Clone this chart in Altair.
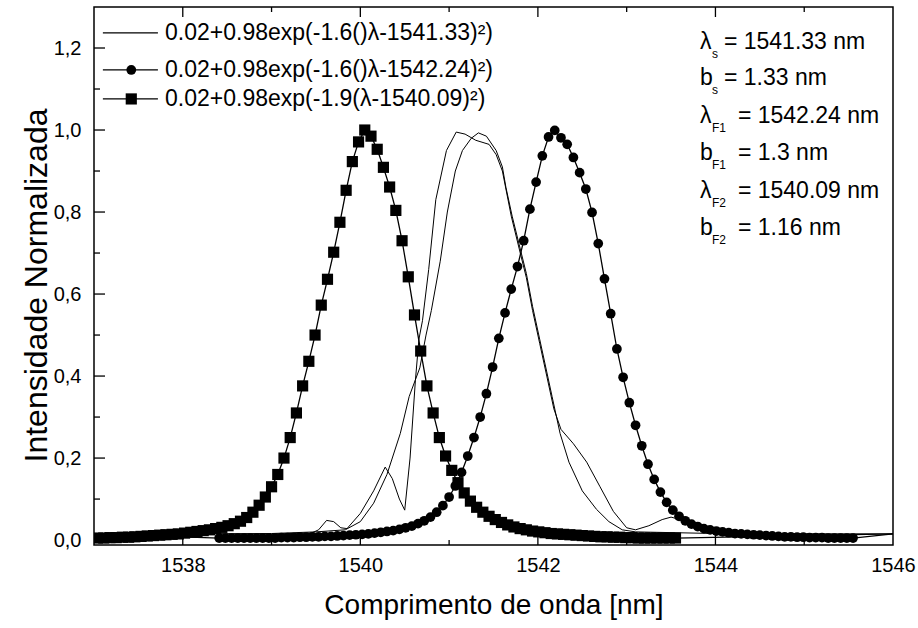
import altair as alt
import numpy as np
import pandas as pd

FONT = "Liberation Sans"

# ---------------- data ----------------
STEP = 0.07           # spacing of the measured points (nm)
SQ_X0 = 1537.04       # first square point (filter F2)
CI_X0 = 1538.41       # first circle point (filter F1)

sq_y = [0.005, 0.005, 0.006, 0.006, 0.007, 0.007, 0.008, 0.009, 0.010, 0.011,
        0.012, 0.013, 0.014, 0.015, 0.017, 0.019, 0.021, 0.023, 0.025, 0.028,
        0.031, 0.035, 0.040, 0.046, 0.055, 0.068, 0.085, 0.105, 0.130, 0.160,
        0.200, 0.250, 0.310, 0.376, 0.436, 0.500, 0.573, 0.636, 0.702, 0.775,
        0.853, 0.923, 0.971, 1.000, 0.985, 0.953, 0.909, 0.861, 0.804, 0.730,
        0.642, 0.549, 0.461, 0.376, 0.310, 0.250, 0.205, 0.170, 0.140, 0.115,
        0.095, 0.080, 0.068, 0.058, 0.050, 0.043, 0.037, 0.032, 0.028, 0.025,
        0.022, 0.020, 0.018, 0.016, 0.015, 0.014, 0.013, 0.012, 0.011, 0.010,
        0.009, 0.008, 0.008, 0.007, 0.007, 0.006, 0.006, 0.005, 0.005, 0.005,
        0.005, 0.005, 0.005, 0.005]

ci_y = [0.005, 0.005, 0.005, 0.005, 0.005, 0.005, 0.005, 0.005, 0.005, 0.005,
        0.006, 0.006, 0.006, 0.007, 0.007, 0.008, 0.008, 0.009, 0.009, 0.010,
        0.011, 0.012, 0.013, 0.014, 0.015, 0.017, 0.019, 0.021, 0.023, 0.026,
        0.030, 0.034, 0.040, 0.047, 0.056, 0.068, 0.084, 0.105, 0.132, 0.165,
        0.205, 0.250, 0.300, 0.357, 0.422, 0.492, 0.554, 0.612, 0.667, 0.730,
        0.807, 0.873, 0.937, 0.983, 0.999, 0.981, 0.965, 0.933, 0.896, 0.856,
        0.799, 0.723, 0.637, 0.552, 0.466, 0.397, 0.335, 0.280, 0.230, 0.185,
        0.148, 0.117, 0.092, 0.073, 0.058, 0.047, 0.039, 0.033, 0.028, 0.025,
        0.022, 0.020, 0.018, 0.016, 0.015, 0.014, 0.013, 0.012, 0.011, 0.010,
        0.009, 0.008, 0.008, 0.007, 0.007, 0.006, 0.006, 0.006, 0.005, 0.005,
        0.005, 0.005, 0.005]

# source: smooth curve (fit) and measured spectrum (thin lines)
src_fit_x = [1537.0, 1539.0, 1539.5, 1539.83, 1540.0, 1540.15, 1540.3, 1540.45,
             1540.55, 1540.67, 1540.74, 1540.8, 1540.9, 1540.98, 1541.07, 1541.15,
             1541.25, 1541.33, 1541.42, 1541.53, 1541.6, 1541.64, 1541.71, 1541.79,
             1541.87, 1541.94, 1542.02, 1542.1, 1542.16, 1542.25, 1542.35, 1542.5,
             1542.66, 1542.8, 1542.95, 1543.1, 1544.0, 1546.0]
src_fit_y = [0.015, 0.016, 0.020, 0.025, 0.045, 0.090, 0.160, 0.260,
             0.350, 0.420, 0.500, 0.560, 0.680, 0.800, 0.900, 0.950,
             0.980, 0.993, 0.985, 0.950, 0.910, 0.860, 0.790, 0.720,
             0.650, 0.570, 0.490, 0.410, 0.350, 0.260, 0.190, 0.120,
             0.075, 0.045, 0.025, 0.020, 0.016, 0.015]

src_meas_x = [1539.0, 1539.45, 1539.53, 1539.62, 1539.7, 1539.78, 1539.85, 1540.0,
              1540.15, 1540.28, 1540.36, 1540.44, 1540.5, 1540.56, 1540.62, 1540.66,
              1540.7, 1540.77, 1540.85, 1540.97, 1541.08, 1541.18, 1541.3, 1541.45,
              1541.53, 1541.6, 1541.7, 1541.79, 1541.87, 1541.94, 1542.02, 1542.1,
              1542.18, 1542.26, 1542.4, 1542.55, 1542.7, 1542.85, 1543.0, 1543.1,
              1543.25, 1543.4, 1543.5, 1543.6, 1543.75, 1543.9, 1544.2]
src_meas_y = [0.015, 0.017, 0.025, 0.048, 0.045, 0.030, 0.028, 0.065,
              0.120, 0.178, 0.150, 0.100, 0.073, 0.200, 0.389, 0.490,
              0.535, 0.660, 0.830, 0.950, 0.995, 0.990, 0.975, 0.965,
              0.940, 0.900, 0.790, 0.710, 0.640, 0.560, 0.480, 0.400,
              0.320, 0.270, 0.235, 0.190, 0.130, 0.070, 0.030, 0.025,
              0.035, 0.050, 0.056, 0.050, 0.030, 0.018, 0.015]

legend_text = ["0.02+0.98exp(-1.6()\u03bb-1541.33)\u00b2)",
               "0.02+0.98exp(-1.6()\u03bb-1542.24)\u00b2)",
               "0.02+0.98exp(-1.9(\u03bb-1540.09)\u00b2)"]
legend_row_y = [1.2367, 1.1465, 1.0758]
LEG_X1, LEG_X2, LEG_XM, LEG_XT = 1537.10, 1537.72, 1537.42, 1537.80

ann_sym = ["\u03bb", "b", "\u03bb", "b", "\u03bb", "b"]
ann_sub = ["s", "s", "F1", "F1", "F2", "F2"]
ann_rest = ["= 1541.33 nm", "= 1.33 nm", "= 1542.24 nm", "= 1.3 nm",
            "= 1540.09 nm", "= 1.16 nm"]
ann_y = [1.2147, 1.1269, 1.0342, 0.9440, 0.8513, 0.7611]
ANN_X = 1543.825

x_major = [1538, 1540, 1542, 1544]
x_minor = [1539, 1541, 1543, 1545]
x_labels = [1538, 1540, 1542, 1544, 1546]
y_major = [0.0, 0.2, 0.4, 0.6, 0.8, 1.0, 1.2]
y_minor = [0.1, 0.3, 0.5, 0.7, 0.9, 1.1]

X_DOMAIN = [1537, 1546]
Y_DOMAIN = [-0.012, 1.3]

# ---------------- tables ----------------
sq = pd.DataFrame({"x": np.round(SQ_X0 + STEP * np.arange(len(sq_y)), 3), "y": sq_y})
ci = pd.DataFrame({"x": np.round(CI_X0 + STEP * np.arange(len(ci_y)), 3), "y": ci_y})
sq_line = pd.concat([pd.DataFrame({"x": [X_DOMAIN[0]], "y": [0.015]}), sq,
                     pd.DataFrame({"x": [X_DOMAIN[1]], "y": [0.015]})])
ci_line = pd.concat([pd.DataFrame({"x": [X_DOMAIN[0]], "y": [0.015]}), ci,
                     pd.DataFrame({"x": [X_DOMAIN[1]], "y": [0.015]})])
fit_df = pd.DataFrame({"x": src_fit_x, "y": src_fit_y})
meas_df = pd.DataFrame({"x": src_meas_x, "y": src_meas_y})

leg_lines = pd.DataFrame({"x": [LEG_X1] * 3, "x2": [LEG_X2] * 3, "y": legend_row_y})
leg_text = pd.DataFrame({"x": [LEG_XT] * 3, "y": legend_row_y, "t": legend_text})
leg_ci = pd.DataFrame({"x": [LEG_XM], "y": [legend_row_y[1]]})
leg_sq = pd.DataFrame({"x": [LEG_XM], "y": [legend_row_y[2]]})

ann = pd.DataFrame({"x": [ANN_X] * 6, "y": ann_y, "sym": ann_sym, "sub": ann_sub,
                    "rest": ann_rest, "grp": ["s", "s", "F", "F", "F", "F"]})

# ---------------- scales / axes ----------------
xs = alt.Scale(domain=X_DOMAIN, nice=False, zero=False)
ys = alt.Scale(domain=Y_DOMAIN, nice=False, zero=False)

x_axis = alt.Axis(values=x_labels, format="d", ticks=False, domain=False, grid=False,
                  labelFontSize=20, labelPadding=10, labelFlush=False, labelColor="black",
                  labelFont=FONT, title="Comprimento de onda [nm]", titleFont=FONT,
                  titleFontSize=28, titleFontWeight="normal", titleColor="black",
                  titleY=68, titleBaseline="alphabetic")
y_axis = alt.Axis(values=y_major, ticks=False, domain=False, grid=False,
                  labelFontSize=20, labelPadding=13, labelColor="black", labelFont=FONT,
                  labelExpr="replace(format(datum.value, '.1f'), '.', ',')",
                  title="Intensidade Normalizada", titleFont=FONT, titleFontSize=32,
                  titleFontWeight="normal", titleColor="black", titleX=-48, titleY=278,
                  titleAngle=-90, titleBaseline="alphabetic", titleAlign="center")


def X(f="x"):
    return alt.X(f"{f}:Q", scale=xs, axis=x_axis)


def Y(f="y"):
    return alt.Y(f"{f}:Q", scale=ys, axis=y_axis)


SQ_SIZE = 125
CI_SIZE = 95

# ---------------- layers ----------------
fit_line = alt.Chart(fit_df).mark_line(color="black", strokeWidth=1, clip=True).encode(x=X(), y=Y())
meas_line = alt.Chart(meas_df).mark_line(color="black", strokeWidth=1, clip=True).encode(x=X(), y=Y())
sq_l = alt.Chart(sq_line).mark_line(color="black", strokeWidth=1.3, clip=True).encode(x=X(), y=Y())
ci_l = alt.Chart(ci_line).mark_line(color="black", strokeWidth=1.3, clip=True).encode(x=X(), y=Y())
sq_p = alt.Chart(sq).mark_point(shape="square", filled=True, size=SQ_SIZE, color="black",
                                opacity=1, clip=True).encode(x=X(), y=Y())
ci_p = alt.Chart(ci).mark_point(shape="circle", filled=True, size=CI_SIZE, color="black",
                                opacity=1, clip=True).encode(x=X(), y=Y())

# legend
leg_l = alt.Chart(leg_lines).mark_rule(color="black", strokeWidth=1.3).encode(
    x=X(), x2="x2:Q", y=Y())
leg_c = alt.Chart(leg_ci).mark_point(shape="circle", filled=True, size=CI_SIZE, color="black",
                                     opacity=1).encode(x=X(), y=Y())
leg_s = alt.Chart(leg_sq).mark_point(shape="square", filled=True, size=SQ_SIZE, color="black",
                                     opacity=1).encode(x=X(), y=Y())
leg_t = alt.Chart(leg_text).mark_text(align="left", baseline="middle", fontSize=23,
                                      font=FONT, color="black").encode(x=X(), y=Y(), text="t:N")

# annotations
ann_main = alt.Chart(ann).mark_text(align="left", baseline="middle", fontSize=23,
                                    font=FONT, color="black").encode(x=X(), y=Y(), text="sym:N")
ann_s = alt.Chart(ann).mark_text(align="left", baseline="middle", fontSize=12, dx=12, dy=12,
                                 font=FONT, color="black").encode(x=X(), y=Y(), text="sub:N")
ann_r1 = alt.Chart(ann).transform_filter(alt.datum.grp == "s").mark_text(
    align="left", baseline="middle", fontSize=23, dx=24, font=FONT, color="black").encode(
    x=X(), y=Y(), text="rest:N")
ann_r2 = alt.Chart(ann).transform_filter(alt.datum.grp == "F").mark_text(
    align="left", baseline="middle", fontSize=23, dx=38, font=FONT, color="black").encode(
    x=X(), y=Y(), text="rest:N")

# inward ticks
H = 538
xmaj = pd.DataFrame({"x": x_major})
xmin = pd.DataFrame({"x": x_minor})
ymaj = pd.DataFrame({"y": y_major})
ymin = pd.DataFrame({"y": y_minor})
tk = dict(color="black", strokeWidth=1.3)
t1 = alt.Chart(xmaj).mark_rule(**tk).encode(x=X(), y=alt.value(H), y2=alt.value(H - 10))
t2 = alt.Chart(xmin).mark_rule(**tk).encode(x=X(), y=alt.value(H), y2=alt.value(H - 5))
t3 = alt.Chart(xmaj).mark_rule(**tk).encode(x=X(), y=alt.value(0), y2=alt.value(10))
t4 = alt.Chart(xmin).mark_rule(**tk).encode(x=X(), y=alt.value(0), y2=alt.value(5))
t5 = alt.Chart(ymaj).mark_rule(**tk).encode(y=Y(), x=alt.value(0), x2=alt.value(11))
t6 = alt.Chart(ymin).mark_rule(**tk).encode(y=Y(), x=alt.value(0), x2=alt.value(6))

chart = alt.layer(
    t1, t2, t3, t4, t5, t6,
    fit_line, meas_line, sq_l, ci_l, sq_p, ci_p,
    leg_l, leg_c, leg_s, leg_t, ann_main, ann_s, ann_r1, ann_r2,
).properties(
    width=799, height=H,
    padding={"left": 94, "top": 7, "right": 25, "bottom": 83},
    autosize=alt.AutoSizeParams(type="none"),
    background="white",
).configure(font=FONT).configure_view(stroke="black", strokeWidth=1.5)

chart.save("out.html", embed_options={"renderer": "svg", "actions": False})
